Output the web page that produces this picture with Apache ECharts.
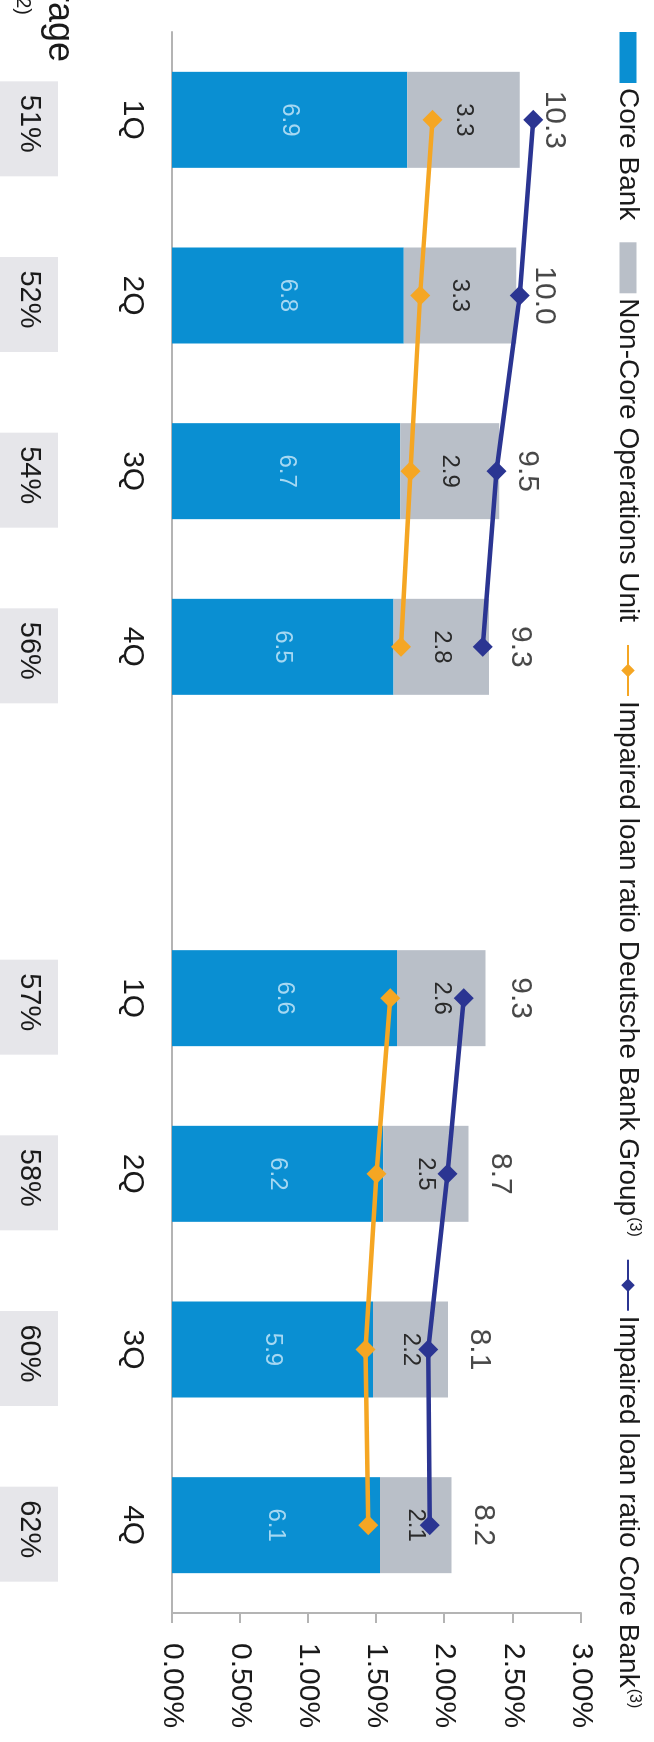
<!DOCTYPE html>
<html>
<head>
<meta charset="utf-8">
<script src="https://cdn.jsdelivr.net/npm/echarts@6/dist/echarts.min.js"></script>
<style>
  html, body { margin: 0; padding: 0; background: #fff; overflow: hidden; width: 654px; height: 1742px; }
  /* The chart is laid out landscape and turned a quarter clockwise onto the portrait page */
  #chart { position: absolute; left: 0; top: 0; width: 1742px; height: 654px;
           transform-origin: 0 0; transform: translate(654px, 0) rotate(90deg); }
</style>
</head>
<body>
<div id="chart"></div>
<script>
// Quarters of two years; the blank slot separates the years
const categories = ['1Q', '2Q', '3Q', '4Q', '', '1Q', '2Q', '3Q', '4Q'];
// Impaired loans in EUR bn
const coreBank = [6.9, 6.8, 6.7, 6.5, null, 6.6, 6.2, 5.9, 6.1];
const nonCore  = [3.3, 3.3, 2.9, 2.8, null, 2.6, 2.5, 2.2, 2.1];
const totals   = [10.3, 10.0, 9.5, 9.3, null, 9.3, 8.7, 8.1, 8.2];
// Impaired loan ratios in %
const ratioGroup = [1.91, 1.82, 1.75, 1.68, null, 1.60, 1.50, 1.42, 1.44];
const ratioCore  = [2.65, 2.55, 2.38, 2.28, null, 2.14, 2.02, 1.88, 1.89];
// Coverage ratio in %
const coverage = [51, 52, 54, 56, null, 57, 58, 60, 62];
// Ratio axis ticks
const ratioMin = 0, ratioMax = 3, ratioStep = 0.5;
// Volume axis range (EUR bn, not shown)
const volumeMax = 12;

const FONT = '"Liberation Sans", Arial, Helvetica, sans-serif';
const C_CORE = '#0a8fd2', C_NONCORE = '#b9bfc8', C_GROUP = '#f5a623', C_COREBANK = '#2b3592';

const NAME_CORE = 'Core Bank';
const NAME_NONCORE = 'Non-Core Operations Unit';
const NAME_GROUP = 'Impaired loan ratio Deutsche Bank Group';
const NAME_COREBANK = 'Impaired loan ratio Core Bank';

const chart = echarts.init(document.getElementById('chart'), null, { renderer: 'canvas' });

const option = {
  backgroundColor: '#fff',
  animation: false,
  textStyle: { fontFamily: FONT },
  grid: { left: 32, right: 129, top: 73, bottom: 172 },
  legend: {
    left: 32, top: 12, width: 1710, padding: 0,
    itemWidth: 51, itemHeight: 17, itemGap: 22,
    textStyle: {
      fontSize: 28, color: '#1a1a1a', fontFamily: FONT,
      rich: { sup: { fontSize: 16, color: '#1a1a1a', verticalAlign: 'top', padding: [0, 0, 10, 1] } }
    },
    data: [
      { name: NAME_CORE, icon: 'rect' },
      { name: NAME_NONCORE, icon: 'rect' },
      NAME_GROUP,
      NAME_COREBANK
    ],
    formatter: n => (n === NAME_GROUP || n === NAME_COREBANK) ? n + '{sup|(3)}' : n
  },
  xAxis: {
    type: 'category',
    data: categories,
    axisLine: { lineStyle: { color: '#b4b4b4', width: 2 } },
    axisTick: { show: false },
    axisLabel: { fontSize: 30, color: '#1a1a1a', margin: 25, fontFamily: FONT }
  },
  yAxis: [
    { type: 'value', min: 0, max: volumeMax, show: false },
    {
      type: 'value', position: 'right',
      min: ratioMin, max: ratioMax, interval: ratioStep,
      axisLine: { show: true, lineStyle: { color: '#b4b4b4', width: 2 } },
      axisTick: { show: true, length: 10, lineStyle: { color: '#b4b4b4', width: 2 } },
      splitLine: { show: false },
      axisLabel: { fontSize: 30, color: '#1a1a1a', margin: 30, fontFamily: FONT,
                   formatter: v => v.toFixed(2) + '%' }
    }
  ],
  series: [
    {
      name: NAME_CORE, type: 'bar', stack: 'loans', yAxisIndex: 0,
      barWidth: 96, data: coreBank,
      itemStyle: { color: C_CORE },
      label: { show: true, position: 'inside', fontSize: 24, color: '#a6d8f2', fontFamily: FONT,
               formatter: p => p.value.toFixed(1) }
    },
    {
      name: NAME_NONCORE, type: 'bar', stack: 'loans', yAxisIndex: 0,
      barWidth: 96, data: nonCore,
      itemStyle: { color: C_NONCORE },
      label: { show: true, position: 'inside', fontSize: 24, color: '#2a2a2a', fontFamily: FONT,
               formatter: p => p.value.toFixed(1) }
    },
    {
      name: 'Total', type: 'scatter', yAxisIndex: 0, data: totals,
      symbolSize: 1, itemStyle: { color: 'rgba(0,0,0,0)' }, silent: true,
      label: { show: true, position: 'top', distance: 16, fontSize: 30, color: '#1a1a1a', fontFamily: FONT,
               formatter: p => p.value.toFixed(1) }
    },
    {
      name: NAME_GROUP, type: 'line', yAxisIndex: 1, data: ratioGroup,
      connectNulls: false, symbol: 'diamond', symbolSize: 20, z: 5,
      lineStyle: { color: C_GROUP, width: 4.5 }, itemStyle: { color: C_GROUP }
    },
    {
      name: NAME_COREBANK, type: 'line', yAxisIndex: 1, data: ratioCore,
      connectNulls: false, symbol: 'diamond', symbolSize: 20, z: 5,
      lineStyle: { color: C_COREBANK, width: 4.5 }, itemStyle: { color: C_COREBANK }
    },
    {
      // coverage ratio boxes below the quarter labels
      name: 'Coverage', type: 'custom', yAxisIndex: 0, clip: false, silent: true, z: 1,
      data: coverage.map((v, i) => v == null ? null : [i, v]).filter(d => d),
      encode: { x: 0, y: 1 },
      renderItem: (params, api) => {
        const p = api.coord([api.value(0), 0]);
        return {
          type: 'group',
          children: [
            { type: 'rect', shape: { x: p[0] + 9 - 47.5, y: p[1] + 114, width: 95, height: 80 },
              style: { fill: '#e6e6ea' } },
            { type: 'text', x: p[0] + 4, y: p[1] + 143,
              style: { text: api.value(1) + '%', fontSize: 29, fontFamily: FONT, fill: '#1a1a1a',
                       align: 'center', verticalAlign: 'middle' } }
          ]
        };
      }
    }
  ],
  graphic: [
    { type: 'text', x: 62, y: 595,
      style: { text: 'Coverage', fontSize: 36, fontFamily: FONT, fill: '#1a1a1a', align: 'right', verticalAlign: 'middle' } },
    { type: 'text', x: 15, y: 631,
      style: { text: '(2)', fontSize: 20, fontFamily: FONT, fill: '#1a1a1a', align: 'right', verticalAlign: 'middle' } }
  ]
};

chart.setOption(option);
</script>
</body>
</html>
